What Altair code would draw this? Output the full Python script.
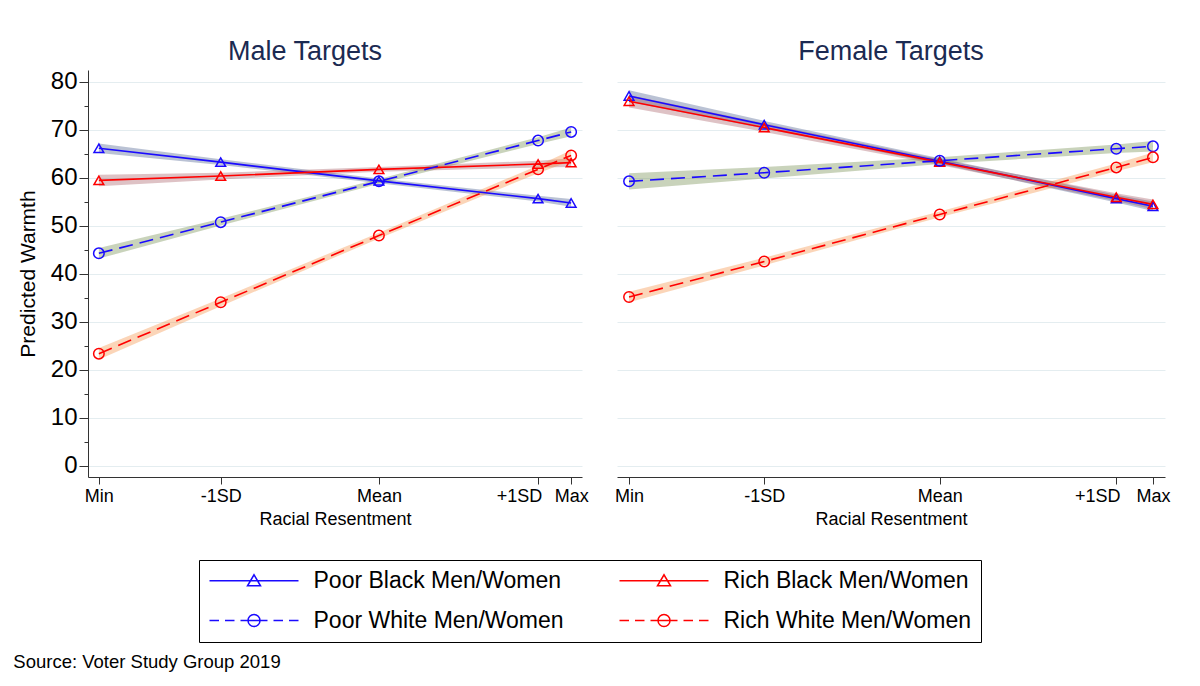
import altair as alt
import pandas as pd

# ---------------- data ----------------
x_positions = [0.0, 0.258, 0.593, 0.930, 1.0]
x_labels = ["Min", "-1SD", "Mean", "+1SD", "Max"]

# legend order (column-major in the legend grid): PB, PW | RB, RW
series_names = ["Poor Black Men/Women", "Poor White Men/Women",
                "Rich Black Men/Women", "Rich White Men/Women"]
line_colors = ["#1a0aff", "#1a0aff", "#ff0000", "#ff0000"]
band_colors = ["#3a4f85", "#65813d", "#a0505a", "#f48734"]
black_series = ["Poor Black Men/Women", "Rich Black Men/Women"]
white_series = ["Poor White Men/Women", "Rich White Men/Women"]

panels = ["Male Targets", "Female Targets"]

# Male targets
male_pb = [66.2, 63.3, 59.4, 55.7, 54.8]
male_pb_lo = [65.2, 62.7, 58.9, 55.1, 54.0]
male_pb_hi = [67.2, 63.9, 59.9, 56.3, 55.6]
male_rb = [59.5, 60.4, 61.8, 62.9, 63.2]
male_rb_lo = [58.3, 59.7, 61.3, 62.2, 62.3]
male_rb_hi = [60.7, 61.1, 62.3, 63.6, 64.1]
male_pw = [44.3, 50.8, 59.3, 67.8, 69.6]
male_pw_lo = [43.2, 50.1, 58.8, 67.1, 68.7]
male_pw_hi = [45.4, 51.5, 59.8, 68.5, 70.5]
male_rw = [23.4, 34.1, 48.0, 61.8, 64.7]
male_rw_lo = [22.2, 33.3, 47.4, 61.0, 63.6]
male_rw_hi = [24.6, 34.9, 48.6, 62.6, 65.8]

# Female targets
female_pb = [77.1, 71.1, 63.5, 55.7, 54.1]
female_pb_lo = [75.9, 70.3, 62.9, 54.9, 53.1]
female_pb_hi = [78.3, 71.9, 64.1, 56.5, 55.1]
female_rb = [76.0, 70.5, 63.3, 56.0, 54.5]
female_rb_lo = [74.7, 69.6, 62.7, 55.2, 53.5]
female_rb_hi = [77.3, 71.4, 63.9, 56.8, 55.5]
female_pw = [59.3, 61.1, 63.6, 66.1, 66.6]
female_pw_lo = [57.6, 59.9, 62.9, 65.2, 65.5]
female_pw_hi = [61.0, 62.3, 64.3, 67.0, 67.7]
female_rw = [35.2, 42.6, 52.4, 62.2, 64.3]
female_rw_lo = [34.1, 41.8, 51.8, 61.4, 63.3]
female_rw_hi = [36.3, 43.4, 53.0, 63.0, 65.3]

y_ticks = [0, 10, 20, 30, 40, 50, 60, 70, 80]
y_ticks_minor = [0, 5, 10, 15, 20, 25, 30, 35, 40, 45, 50, 55, 60, 65, 70, 75, 80]

source_text = "Source: Voter Study Group 2019"

# ---------------- table ----------------
table = {
    "Male Targets": {
        "Poor Black Men/Women": (male_pb, male_pb_lo, male_pb_hi),
        "Rich Black Men/Women": (male_rb, male_rb_lo, male_rb_hi),
        "Poor White Men/Women": (male_pw, male_pw_lo, male_pw_hi),
        "Rich White Men/Women": (male_rw, male_rw_lo, male_rw_hi),
    },
    "Female Targets": {
        "Poor Black Men/Women": (female_pb, female_pb_lo, female_pb_hi),
        "Rich Black Men/Women": (female_rb, female_rb_lo, female_rb_hi),
        "Poor White Men/Women": (female_pw, female_pw_lo, female_pw_hi),
        "Rich White Men/Women": (female_rw, female_rw_lo, female_rw_hi),
    },
}
rows = []
for p in panels:
    for s, lc, bc in zip(series_names, line_colors, band_colors):
        vals, los, his = table[p][s]
        for xv, v, lo, hi in zip(x_positions, vals, los, his):
            rows.append({"panel": p, "series": s, "lcolor": lc, "bcolor": bc,
                         "x": xv, "y": v, "lo": lo, "hi": hi})
df = pd.DataFrame(rows)

FONT = "Liberation Sans"

# ---------------- scales / axes ----------------
x_scale = alt.Scale(domain=[-0.023, 1.023], nice=False, zero=False)
y_scale = alt.Scale(domain=[-2.3, 82.5], nice=False, zero=False)

label_expr = " : ".join(
    f"abs(datum.value - {v}) < 0.0001 ? '{l}'" for v, l in zip(x_positions, x_labels)
) + " : ''"

x_axis = alt.Axis(
    values=x_positions, labelExpr=label_expr, title="Racial Resentment",
    grid=False, labelFontSize=18, titleFontSize=18, labelFont=FONT, titleFont=FONT,
    labelColor="black", titleColor="black", titleFontWeight="normal",
    tickSize=7, tickColor="#333333", domainColor="#333333", domainWidth=1,
    labelPadding=3, titlePadding=5, labelOverlap=False, labelFlush=False, labelBound=False,
    labelOffset={"condition": {"test": "abs(datum.value - 0.93) < 0.0001", "value": -19}, "value": 0},
)

y_axis_left = alt.Axis(
    values=y_ticks_minor,
    labelExpr="datum.value % 10 != 0 ? '' : datum.label",
    title="Predicted Warmth", titleFontSize=21, titleFont=FONT, titleFontWeight="normal",
    titleColor="black", labelFontSize=24, labelFont=FONT, labelColor="black",
    tickSize={"condition": {"test": "datum.value % 10 != 0", "value": 4}, "value": 9},
    tickColor="#333333", domainColor="#333333", domainWidth=1,
    labelPadding=2, titlePadding=12,
    grid=True, gridColor="#e4edf0", gridWidth=1,
    gridOpacity={"condition": {"test": "datum.value % 10 != 0", "value": 0}, "value": 1},
    labelOverlap=False,
)

y_axis_right = alt.Axis(
    values=y_ticks, labels=False, ticks=False, domain=False, title=None,
    grid=True, gridColor="#e4edf0", gridWidth=1,
)

tri_path = "M-4.45,0L4.45,0M-0.65,0.5L0.65,0.5L0,-0.6Z"
circ_path = ("M-4.45,0L-3.5,0M-2.9,0L-1.95,0M-1.35,0L1.35,0M1.95,0L2.9,0M3.5,0L4.45,0"
             "M0.6,0A0.6,0.6,0,1,1,-0.6,0A0.6,0.6,0,1,1,0.6,0Z")
legend_shapes = [tri_path, circ_path, tri_path, circ_path]

legend_spec = alt.Legend(
    title=None, orient="none", legendX=111, legendY=490, columns=2,
    symbolSize=400, symbolOffset=34.5, labelOffset=48, symbolStrokeWidth=1.5,
    labelFontSize=23, labelFont=FONT, labelColor="black", labelLimit=500,
    strokeColor="black", fillColor="white", padding=9, rowPadding=16,
    columnPadding=52, gridAlign="all", symbolOpacity=1,
)

color_scale = alt.Scale(domain=series_names, range=line_colors)
shape_scale = alt.Scale(domain=series_names, range=legend_shapes)


def make_panel(panel, width, left, title_dx, with_legend):
    d = df[df["panel"] == panel]
    base = alt.Chart(d)
    yaxis = y_axis_left if left else y_axis_right
    xe = alt.X("x:Q", scale=x_scale, axis=x_axis)
    ye = alt.Y("y:Q", scale=y_scale, axis=yaxis)

    band = base.mark_area(fillOpacity=0.35).encode(
        x=xe,
        y=alt.Y("lo:Q", scale=y_scale, axis=yaxis),
        y2=alt.Y2("hi:Q"),
        fill=alt.Fill("bcolor:N", scale=None),
        detail="series:N",
    )
    solid = base.transform_filter(
        alt.FieldOneOfPredicate(field="series", oneOf=black_series)
    ).mark_line(strokeWidth=1.6).encode(
        x=xe, y=ye, stroke=alt.Stroke("lcolor:N", scale=None), detail="series:N",
    )
    dashed = base.transform_filter(
        alt.FieldOneOfPredicate(field="series", oneOf=white_series)
    ).mark_line(strokeWidth=1.6, strokeDash=[14, 7]).encode(
        x=xe, y=ye, stroke=alt.Stroke("lcolor:N", scale=None), detail="series:N",
    )
    tri = base.transform_filter(
        alt.FieldOneOfPredicate(field="series", oneOf=black_series)
    ).mark_point(shape="triangle-up", filled=False, size=95, strokeWidth=1.5, opacity=1).encode(
        x=xe, y=ye, stroke=alt.Stroke("lcolor:N", scale=None),
    )
    circ = base.transform_filter(
        alt.FieldOneOfPredicate(field="series", oneOf=white_series)
    ).mark_point(shape="circle", filled=False, size=110, strokeWidth=1.5, opacity=1).encode(
        x=xe, y=ye, stroke=alt.Stroke("lcolor:N", scale=None),
    )
    layers = [band, solid, dashed, tri, circ]
    if with_legend:
        leg = base.transform_filter("false").mark_point(
            filled=False, strokeWidth=1.5, opacity=1
        ).encode(
            x=xe, y=ye,
            color=alt.Color("series:N", scale=color_scale, legend=legend_spec),
            shape=alt.Shape("series:N", scale=shape_scale, legend=legend_spec),
        )
        layers.append(leg)
    return alt.layer(*layers).properties(
        width=width, height=407,
        title=alt.TitleParams(
            text=panel, fontSize=27, font=FONT, fontWeight="normal", color="#1b2a52",
            anchor="middle", frame="group", dx=title_dx, offset=-23, baseline="bottom",
        ),
    )


left_panel = make_panel("Male Targets", 494, True, -30, True)
right_panel = make_panel("Female Targets", 548, False, 0, False)

chart = alt.hconcat(left_panel, right_panel, spacing=35, bounds="flush").properties(
    padding={"left": 5, "top": 29, "right": 5, "bottom": 5},
    title=alt.TitleParams(
        text=source_text, orient="bottom", anchor="start", frame="bounds",
        fontSize=18.5, font=FONT, fontWeight="normal", color="black", offset=10, dx=-4,
    ),
).configure(font=FONT, background="white").configure_view(stroke=None)

chart.save("out.html", embed_options={"renderer": "svg", "actions": False})
